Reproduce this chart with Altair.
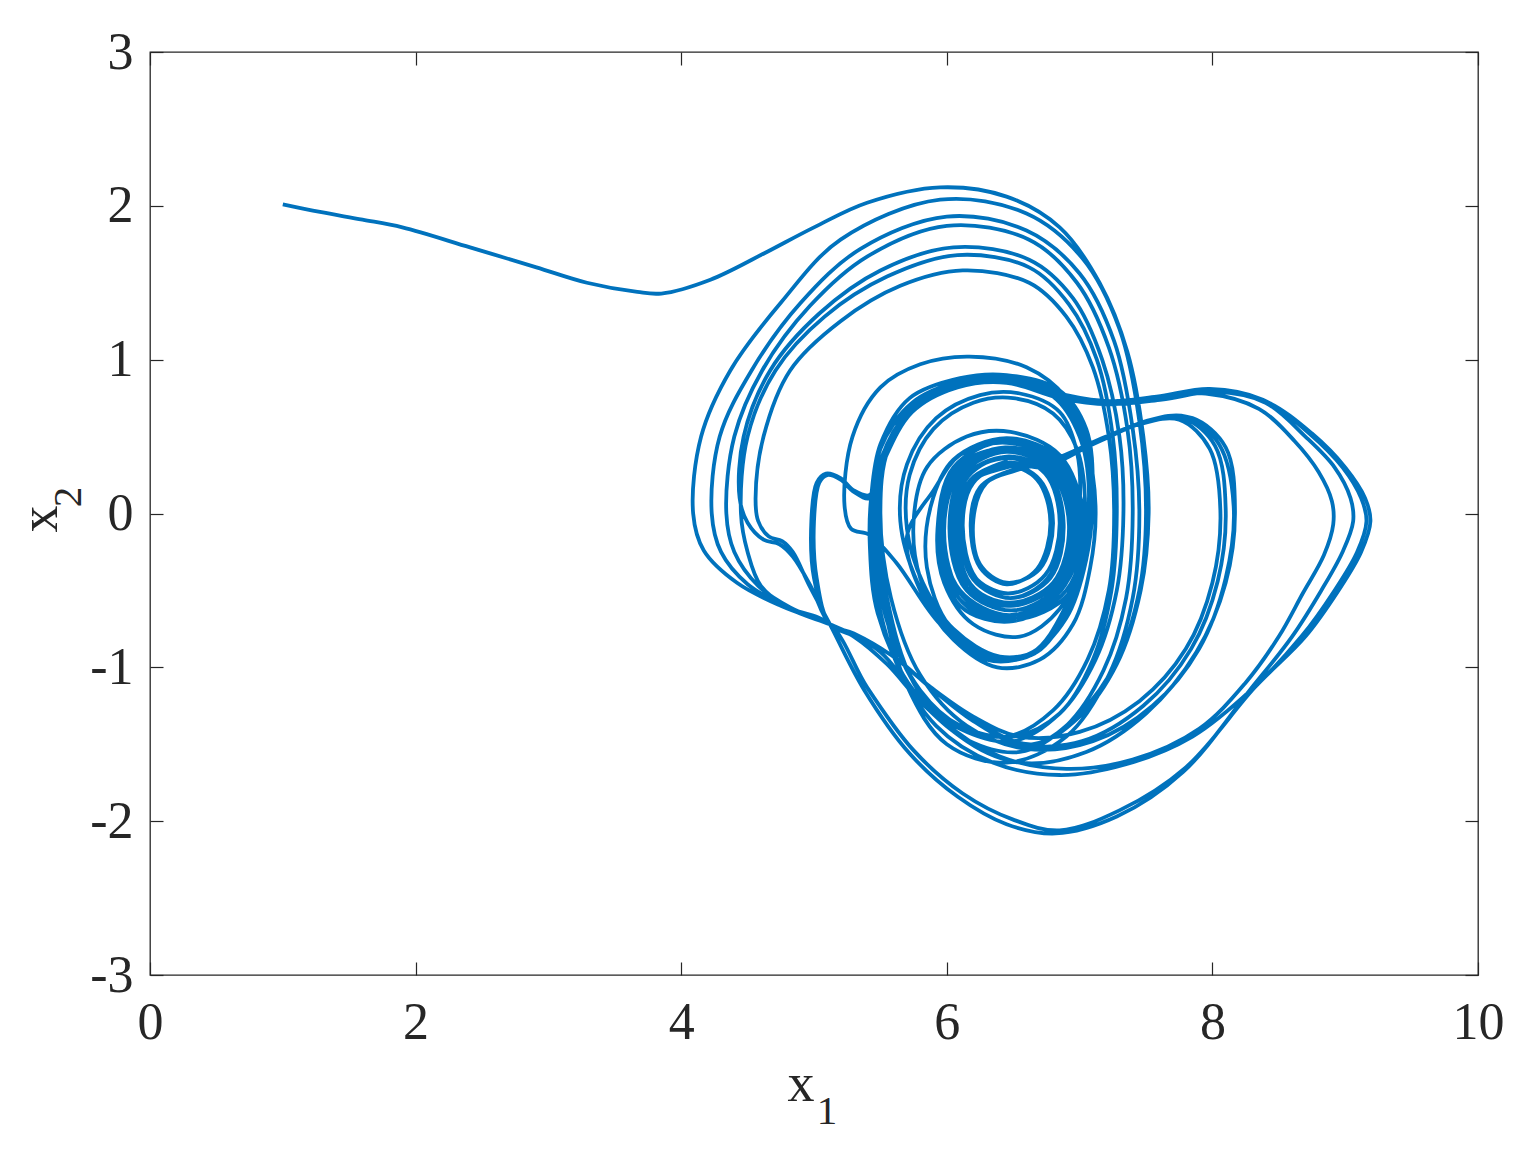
import altair as alt
import pandas as pd

# ---------------- axes ----------------
X_TICKS = [0, 2, 4, 6, 8, 10]
Y_TICKS = [-3, -2, -1, 0, 1, 2, 3]
X_DOMAIN = [0, 10]
Y_DOMAIN = [-3, 3]
X_TITLE = ["x", "1"]
Y_TITLE = ["x", "2"]

# ---------------- trajectory (x1, x2) ----------------
transient = [(1.00, 2.01), (1.28, 1.96), (1.60, 1.91), (1.90, 1.86), (2.41, 1.73), (2.91, 1.60),
             (3.29, 1.50), (3.67, 1.44), (3.85, 1.43), (4.22, 1.52), (4.60, 1.68), (5.00, 1.86),
             (5.40, 2.02), (5.95, 2.12), (6.45, 2.06), (6.85, 1.86), (7.15, 1.50), (7.36, 1.05),
             (7.48, 0.50), (7.52, 0.00), (7.46, -0.50), (7.28, -0.98), (7.00, -1.32), (6.65, -1.50),
             (6.25, -1.37), (5.90, -1.15), (5.60, -0.93), (5.30, -0.79), (5.12, -0.72)]

loop_a1 = [(4.75, -0.60), (4.42, -0.45), (4.17, -0.24), (4.09, 0.00), (4.15, 0.50), (4.37, 0.93),
           (4.75, 1.37), (5.20, 1.78), (5.95, 2.04), (6.60, 1.95), (7.02, 1.66), (7.30, 1.20),
           (7.45, 0.60), (7.50, 0.00), (7.45, -0.50), (7.28, -0.96), (7.00, -1.30), (6.65, -1.50),
           (6.25, -1.37), (5.90, -1.15), (5.60, -0.93), (5.30, -0.79), (5.12, -0.72)]

loop_ear_r1 = [(5.00, -0.42), (4.98, -0.05), (5.02, 0.20), (5.09, 0.26), (5.20, 0.23), (5.30, 0.15),
               (5.42, 0.12), (5.50, 0.35), (5.72, 0.67), (6.05, 0.83), (6.45, 0.86), (6.85, 0.76),
               (7.20, 0.72), (7.60, 0.75), (8.00, 0.80), (8.40, 0.73), (8.75, 0.52), (9.00, 0.30),
               (9.15, 0.10), (9.19, -0.05), (9.12, -0.25), (8.95, -0.50), (8.70, -0.80), (8.32, -1.13),
               (7.80, -1.65), (7.30, -1.93), (6.85, -2.06), (6.50, -1.99), (6.12, -1.82), (5.75, -1.54),
               (5.40, -1.13), (5.12, -0.72)]

loop_a2 = [(4.80, -0.61), (4.50, -0.46), (4.30, -0.25), (4.23, 0.00), (4.29, 0.50), (4.53, 0.93),
           (4.90, 1.37), (5.35, 1.72), (6.00, 1.93), (6.60, 1.84), (7.00, 1.56), (7.26, 1.12),
           (7.40, 0.55), (7.45, 0.00), (7.40, -0.55), (7.22, -1.05), (6.90, -1.45), (6.45, -1.62),
           (6.00, -1.50), (5.70, -1.12), (5.52, -0.55), (5.47, 0.00)]

ring_m1a = [(5.53, 0.40), (5.76, 0.70), (6.10, 0.84), (6.45, 0.87), (6.80, 0.78), (7.00, 0.55),
            (7.08, 0.20), (7.05, -0.20), (6.92, -0.60), (6.70, -0.88), (6.40, -0.93), (6.05, -0.75),
            (5.82, -0.45), (5.70, -0.10), (5.72, 0.25), (5.90, 0.55), (6.20, 0.72), (6.50, 0.75),
            (6.80, 0.65), (6.98, 0.42), (7.04, 0.10), (7.00, -0.30), (6.85, -0.62), (6.55, -0.80),
            (6.20, -0.72), (5.98, -0.45)]

spiral_1 = [(5.93, -0.10), (6.05, 0.30), (6.45, 0.47), (6.85, 0.33), (7.03, -0.08), (6.90, -0.50),
            (6.50, -0.68), (6.12, -0.54), (5.98, -0.12), (6.10, 0.27), (6.46, 0.42), (6.80, 0.30),
            (6.95, -0.08), (6.82, -0.46), (6.48, -0.60), (6.18, -0.47), (6.06, -0.10), (6.16, 0.24),
            (6.46, 0.37), (6.75, 0.26), (6.87, -0.07), (6.76, -0.42), (6.47, -0.55), (6.22, -0.42),
            (6.12, -0.08), (6.20, 0.20), (6.45, 0.31), (6.68, 0.22), (6.78, -0.06), (6.68, -0.36),
            (6.45, -0.46), (6.25, -0.35), (6.18, -0.06), (6.25, 0.17), (6.45, 0.27)]

ring_m2a = [(6.75, 0.33), (7.15, 0.47), (7.50, 0.60), (7.80, 0.63), (8.05, 0.45), (8.16, 0.05),
            (8.10, -0.42), (7.90, -0.88), (7.55, -1.25), (7.10, -1.48), (6.60, -1.53), (6.15, -1.38),
            (5.80, -1.05), (5.58, -0.55), (5.50, 0.00), (5.56, 0.42), (5.80, 0.72), (6.15, 0.85),
            (6.50, 0.88), (6.90, 0.77), (7.25, 0.73), (7.60, 0.76)]

loop_r2 = [(7.95, 0.78), (8.35, 0.68), (8.62, 0.47), (8.80, 0.27), (8.90, 0.08), (8.91, -0.07),
           (8.84, -0.27), (8.68, -0.52), (8.50, -0.80), (8.25, -1.10), (7.90, -1.40), (7.40, -1.60),
           (6.90, -1.66), (6.40, -1.58), (5.98, -1.35), (5.66, -0.95), (5.50, -0.45), (5.45, 0.00)]

ring_m1b = [(5.50, 0.42), (5.74, 0.72), (6.10, 0.86), (6.45, 0.89), (6.82, 0.80), (7.02, 0.58),
            (7.10, 0.20), (7.06, -0.22), (6.92, -0.62), (6.68, -0.90), (6.38, -0.95), (6.02, -0.78),
            (5.78, -0.45), (5.65, -0.05), (5.70, 0.32), (5.92, 0.62), (6.25, 0.77), (6.55, 0.78),
            (6.85, 0.66), (6.98, 0.40), (7.00, 0.05), (6.92, -0.35), (6.72, -0.62), (6.45, -0.70),
            (6.12, -0.58), (5.96, -0.25)]

spiral_2 = [(5.98, 0.10), (6.15, 0.38), (6.50, 0.47), (6.85, 0.32), (7.00, -0.10), (6.86, -0.50),
            (6.47, -0.66), (6.10, -0.50), (5.96, -0.10), (6.08, 0.28), (6.44, 0.43), (6.82, 0.31),
            (6.98, -0.09), (6.85, -0.49), (6.48, -0.63), (6.14, -0.49), (6.02, -0.10), (6.12, 0.26),
            (6.45, 0.40), (6.78, 0.28), (6.92, -0.08), (6.80, -0.45), (6.47, -0.58), (6.16, -0.45),
            (6.08, -0.08), (6.18, 0.22), (6.47, 0.33), (6.72, 0.30)]

ring_m2b = [(7.10, 0.45), (7.45, 0.58), (7.75, 0.61), (7.98, 0.42), (8.06, 0.02), (8.00, -0.45),
            (7.80, -0.88), (7.45, -1.22), (7.00, -1.42), (6.55, -1.45), (6.20, -1.32), (5.88, -1.13),
            (5.58, -0.92), (5.30, -0.78), (5.12, -0.72)]

loop_a4 = [(4.98, -0.48), (4.84, -0.28), (4.74, -0.20), (4.62, -0.17), (4.50, -0.06), (4.44, 0.10),
           (4.47, 0.50), (4.67, 0.93), (5.04, 1.30), (5.50, 1.58), (6.05, 1.73), (6.62, 1.65),
           (6.95, 1.40), (7.17, 1.00), (7.30, 0.50), (7.33, 0.00), (7.28, -0.50), (7.12, -0.95),
           (6.85, -1.30), (6.50, -1.48), (6.10, -1.40), (5.78, -1.18), (5.50, -0.90), (5.25, -0.77),
           (5.12, -0.72)]

loop_a3 = [(4.82, -0.61), (4.58, -0.47), (4.40, -0.25), (4.34, 0.00), (4.40, 0.50), (4.61, 0.93),
           (4.97, 1.35), (5.40, 1.67), (6.00, 1.87), (6.62, 1.78), (6.98, 1.50), (7.22, 1.08),
           (7.36, 0.55), (7.40, 0.00), (7.35, -0.55), (7.18, -1.02), (6.90, -1.38), (6.55, -1.55),
           (6.15, -1.47), (5.82, -1.24), (5.55, -0.98), (5.30, -0.80), (5.12, -0.72)]

loop_ear_r3 = [(5.02, -0.42), (5.00, -0.05), (5.04, 0.20), (5.10, 0.25), (5.20, 0.22), (5.30, 0.14),
               (5.42, 0.10), (5.52, 0.33), (5.74, 0.66), (6.08, 0.82), (6.45, 0.85), (6.85, 0.75),
               (7.22, 0.71), (7.62, 0.74), (8.02, 0.79), (8.40, 0.72), (8.70, 0.50), (8.92, 0.30),
               (9.04, 0.10), (9.06, -0.05), (8.98, -0.25), (8.82, -0.50), (8.60, -0.80), (8.28, -1.15),
               (7.78, -1.68), (7.28, -1.97), (6.82, -2.08), (6.45, -2.02), (6.08, -1.84), (5.72, -1.56),
               (5.38, -1.15), (5.12, -0.72)]

loop_a6 = [(4.96, -0.46), (4.84, -0.25), (4.76, -0.18), (4.66, -0.15), (4.58, -0.05), (4.56, 0.10),
           (4.62, 0.50), (4.82, 0.93), (5.20, 1.25), (5.65, 1.48), (6.12, 1.58), (6.62, 1.50),
           (6.90, 1.28), (7.10, 0.95), (7.22, 0.50), (7.26, 0.00), (7.22, -0.50), (7.06, -0.95),
           (6.80, -1.28), (6.45, -1.45), (6.08, -1.37), (5.75, -1.15), (5.48, -0.65), (5.42, -0.20),
           (5.43, 0.10)]

arc_mid = [(5.50, 0.45), (5.72, 0.75), (6.10, 0.88), (6.45, 0.90), (6.85, 0.80), (7.05, 0.55),
           (7.10, 0.15), (7.05, -0.30), (6.90, -0.68), (6.62, -0.92), (6.30, -0.95), (5.95, -0.72),
           (5.62, -0.32), (5.42, -0.14), (5.28, -0.10), (5.23, 0.05), (5.29, 0.50), (5.50, 0.82),
           (5.80, 0.97), (6.17, 1.02), (6.60, 0.95), (6.90, 0.75), (7.05, 0.45), (7.12, 0.05),
           (7.08, -0.35), (6.95, -0.72), (6.70, -0.95), (6.38, -1.00), (6.05, -0.82), (5.80, -0.50),
           (5.70, -0.15)]

spiral_3 = [(5.90, 0.15), (6.10, 0.38), (6.45, 0.46), (6.82, 0.33), (6.98, -0.08), (6.85, -0.50),
            (6.48, -0.66), (6.10, -0.52), (5.95, -0.10), (6.05, 0.28), (6.40, 0.42), (6.78, 0.30),
            (6.93, -0.08), (6.80, -0.47), (6.46, -0.60), (6.15, -0.48), (6.04, -0.10), (6.14, 0.24),
            (6.45, 0.36), (6.74, 0.26), (6.85, -0.06), (6.74, -0.40), (6.46, -0.52), (6.20, -0.40),
            (6.12, -0.06), (6.20, 0.20), (6.45, 0.32), (6.70, 0.22), (6.80, -0.06), (6.70, -0.36),
            (6.45, -0.45), (6.25, -0.33), (6.20, -0.04), (6.30, 0.20), (6.52, 0.28)]

ring_m2c = [(6.80, 0.35), (7.20, 0.50), (7.55, 0.61), (7.85, 0.62), (8.10, 0.43), (8.17, 0.02),
            (8.10, -0.45), (7.88, -0.90), (7.50, -1.30), (7.05, -1.55), (6.55, -1.62), (6.10, -1.45),
            (5.75, -1.10), (5.55, -0.55), (5.48, 0.00)]

loop_r4 = [(5.54, 0.42), (5.77, 0.71), (6.10, 0.84), (6.45, 0.87), (6.85, 0.77), (7.20, 0.73),
           (7.58, 0.76), (7.98, 0.81), (8.38, 0.74), (8.73, 0.52), (8.98, 0.30), (9.12, 0.10),
           (9.16, -0.05), (9.09, -0.25), (8.92, -0.50), (8.67, -0.80), (8.30, -1.14), (7.85, -1.45),
           (7.35, -1.63), (6.85, -1.70), (6.35, -1.62), (5.92, -1.38), (5.62, -0.97), (5.46, -0.45),
           (5.44, 0.00)]

spiral_4 = [(5.50, 0.42), (5.73, 0.70), (6.08, 0.83), (6.45, 0.86), (6.80, 0.76), (7.00, 0.50),
            (7.07, 0.15), (7.02, -0.25), (6.88, -0.63), (6.65, -0.90), (6.35, -0.94), (6.00, -0.74),
            (5.80, -0.42), (5.75, -0.05), (5.85, 0.30), (6.15, 0.50), (6.48, 0.53), (6.85, 0.38),
            (7.02, 0.00), (6.90, -0.45), (6.50, -0.70), (6.10, -0.60), (5.95, -0.20), (6.05, 0.20),
            (6.40, 0.40), (6.78, 0.32), (6.95, -0.05), (6.85, -0.46), (6.50, -0.63), (6.15, -0.50),
            (6.03, -0.12), (6.12, 0.23), (6.45, 0.37), (6.76, 0.27), (6.88, -0.07), (6.78, -0.42),
            (6.48, -0.55), (6.20, -0.43), (6.10, -0.08), (6.18, 0.20), (6.45, 0.30)]

loop_a5 = [(6.75, 0.34), (7.12, 0.46), (7.48, 0.59), (7.78, 0.62), (8.02, 0.44), (8.10, 0.03),
           (8.04, -0.44), (7.84, -0.88), (7.48, -1.25), (7.02, -1.48), (6.55, -1.50), (6.20, -1.35),
           (5.90, -1.15), (5.60, -0.93), (5.30, -0.79), (5.12, -0.72), (4.82, -0.62), (4.60, -0.47),
           (4.50, -0.25), (4.45, 0.00), (4.50, 0.50), (4.71, 0.93), (5.08, 1.28), (5.55, 1.54),
           (6.08, 1.68), (6.62, 1.60), (6.92, 1.36), (7.13, 1.00), (7.25, 0.50), (7.28, 0.00),
           (7.24, -0.50), (7.10, -0.95), (6.85, -1.30), (6.50, -1.45), (6.10, -1.38), (5.80, -1.15),
           (5.55, -0.70), (5.46, -0.20), (5.47, 0.10)]

spiral_5 = [(5.55, 0.45), (5.80, 0.74), (6.12, 0.85), (6.46, 0.87), (6.82, 0.77), (7.03, 0.52),
            (7.09, 0.15), (7.04, -0.26), (6.90, -0.64), (6.66, -0.91), (6.36, -0.93), (6.02, -0.73),
            (5.85, -0.35), (5.88, 0.05), (6.05, 0.35), (6.45, 0.49), (6.86, 0.35), (7.04, -0.06),
            (6.92, -0.52), (6.50, -0.69), (6.10, -0.56), (5.96, -0.15), (6.08, 0.25), (6.45, 0.41),
            (6.80, 0.29), (6.94, -0.08), (6.82, -0.46), (6.47, -0.59), (6.18, -0.46), (6.08, -0.09),
            (6.18, 0.22), (6.46, 0.34)]

SEGMENTS = [transient, loop_a1, loop_ear_r1, loop_a2, ring_m1a, spiral_1, ring_m2a, loop_r2,
            ring_m1b, spiral_2, ring_m2b, loop_a4, loop_a3, loop_ear_r3, loop_a6, arc_mid,
            spiral_3, ring_m2c, loop_r4, spiral_4, loop_a5, spiral_5]

rows = []
for seg in SEGMENTS:
    for a, b in seg:
        rows.append({"t": len(rows), "x1": a, "x2": b})
df = pd.DataFrame(rows)

# ---------------- style ----------------
BLUE = "#0072BD"
AX = "#262626"
FONT = "Liberation Serif"
TICK = 13
LABEL_SIZE = 52
TITLE_SIZE = 54
SUB_SIZE = 41
W, H = 1328, 923

xscale = alt.Scale(domain=X_DOMAIN, nice=False, zero=False)
yscale = alt.Scale(domain=Y_DOMAIN, nice=False, zero=False)

common_axis = dict(domain=False, grid=False, ticks=True, tickSize=TICK, offset=-TICK,
                   tickColor=AX, tickWidth=1.2, labelFont=FONT, labelFontSize=LABEL_SIZE,
                   labelColor=AX, labelFlush=False, labelOverlap=False,
                   labelExpr="'' + datum.value")

curve = alt.Chart(df).mark_line(interpolate="catmull-rom", color=BLUE, strokeWidth=3.8,
                                clip=True).encode(
    x=alt.X("x1:Q", scale=xscale, title="",
            axis=alt.Axis(orient="bottom", values=X_TICKS, labelPadding=22, **common_axis)),
    y=alt.Y("x2:Q", scale=yscale, title="",
            axis=alt.Axis(orient="left", values=Y_TICKS, labelPadding=17, **common_axis)),
    order="t:Q",
)

mirror = alt.Chart(df).mark_line(strokeOpacity=0).encode(
    x=alt.X("x1:Q", scale=xscale, title="",
            axis=alt.Axis(orient="top", values=X_TICKS, labels=False, domain=False,
                          grid=False, tickSize=TICK, offset=-TICK, tickColor=AX, tickWidth=1.2)),
    y=alt.Y("x2:Q", scale=yscale, title="",
            axis=alt.Axis(orient="right", values=Y_TICKS, labels=False, domain=False,
                          grid=False, tickSize=TICK, offset=-TICK, tickColor=AX, tickWidth=1.2)),
    order="t:Q",
)

# axis titles with real subscripts (main letter + lowered, smaller digit)
def title_part(txt, size, px, py, angle=0):
    return alt.Chart(pd.DataFrame({"label": [txt]})).mark_text(
        font=FONT, fontSize=size, color=AX, align="center", baseline="alphabetic", angle=angle
    ).encode(x=alt.value(px), y=alt.value(py), text="label:N")

xt_main = title_part(X_TITLE[0], TITLE_SIZE, 651, 1049)
xt_sub = title_part(X_TITLE[1], SUB_SIZE, 677, 1072)
yt_main = title_part(Y_TITLE[0], TITLE_SIZE, -93, 467, angle=270)
yt_sub = title_part(Y_TITLE[1], SUB_SIZE, -69, 445, angle=270)

chart = alt.layer(curve, mirror, xt_main, xt_sub, yt_main, yt_sub).resolve_scale(
    x="independent", y="independent"
).properties(
    width=W, height=H,
    autosize=alt.AutoSizeParams(type="none"),
    padding={"left": 142, "top": 44, "right": 32, "bottom": 158},
    background="white",
).configure_view(stroke=AX, strokeWidth=1.3)

chart.save("out.html", embed_options={"renderer": "svg", "actions": False})
